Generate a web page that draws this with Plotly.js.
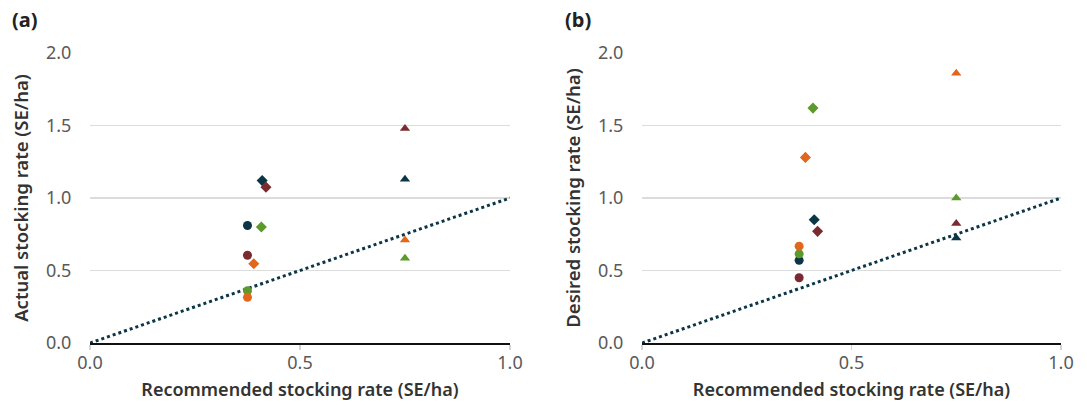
<!DOCTYPE html>
<html>
<head>
<meta charset="utf-8">
<script src="https://cdn.plot.ly/plotly-3.0.1.min.js"></script>
<style>html,body{margin:0;padding:0;background:#fff;}#chart{width:1087px;height:407px;}</style>
</head>
<body>
<div id="chart"></div>
<script>
// Groups (colour order): navy, maroon, green, orange
var groupColors = ['#0c3646', '#7b2b2f', '#5c9a2c', '#e2661b'];

// Panel (a): actual stocking rate vs recommended
var aCircleX = [0.375, 0.375, 0.375, 0.375];
var aCircleY = [0.81, 0.605, 0.36, 0.315];
var aDiamondX = [0.41, 0.419, 0.408, 0.39];
var aDiamondY = [1.12, 1.075, 0.80, 0.547];
var aTriangleX = [0.75, 0.75, 0.75, 0.75];
var aTriangleY = [1.13, 1.48, 0.585, 0.71];

// Panel (b): desired stocking rate vs recommended
var bCircleX = [0.375, 0.375, 0.375, 0.375];
var bCircleY = [0.57, 0.45, 0.615, 0.668];
var bDiamondX = [0.411, 0.419, 0.408, 0.39];
var bDiamondY = [0.85, 0.77, 1.62, 1.28];
var bTriangleX = [0.75, 0.75, 0.75, 0.75];
var bTriangleY = [0.725, 0.825, 1.0, 1.86];

// 1:1 reference line
var refX = [0, 1];
var refY = [0, 1];

var xTicks = [0, 0.5, 1.0];
var xTickText = ['0.0', '0.5', '1.0'];
var yTicks = [0, 0.5, 1.0, 1.5, 2.0];
var yTickText = ['0.0', '0.5', '1.0', '1.5', '2.0'];

var FONT = 'Noto Sans, Open Sans, sans-serif';

function pts(x, y, sym, size, xa, ya) {
  return {type: 'scatter', mode: 'markers', x: x, y: y, xaxis: xa, yaxis: ya,
    marker: {symbol: sym, size: size, color: groupColors, line: {width: 0}},
    showlegend: false, hoverinfo: 'x+y', cliponaxis: false};
}
function ref(xa, ya) {
  return {type: 'scatter', mode: 'lines', x: refX, y: refY, xaxis: xa, yaxis: ya,
    line: {color: '#0c3646', width: 3, dash: 'dot'}, showlegend: false, hoverinfo: 'skip'};
}

var data = [
  ref('x', 'y'),
  pts(aCircleX, aCircleY, 'circle', 9, 'x', 'y'),
  pts(aDiamondX, aDiamondY, 'diamond', 8.5, 'x', 'y'),
  pts(aTriangleX, aTriangleY, 'triangle-up', 9, 'x', 'y'),
  ref('x2', 'y2'),
  pts(bCircleX, bCircleY, 'circle', 9, 'x2', 'y2'),
  pts(bDiamondX, bDiamondY, 'diamond', 8.5, 'x2', 'y2'),
  pts(bTriangleX, bTriangleY, 'triangle-up', 9, 'x2', 'y2')
];

function xax(domain, anchor) {
  return {domain: domain, anchor: anchor, range: [0, 1], tickvals: xTicks, ticktext: xTickText,
    showgrid: false, zeroline: false, showline: true, linecolor: '#111', linewidth: 2,
    ticks: 'outside', ticklen: 5, tickwidth: 1.5, tickcolor: '#d4d4d4',
    ticklabelstandoff: -3,
    tickfont: {family: FONT, size: 18, color: '#595959'},
    title: {text: 'Recommended stocking rate (SE/ha)', standoff: 11,
      font: {family: FONT, size: 18, color: '#333', weight: 600}}};
}
function yax(anchor, title) {
  return {domain: [0, 1], anchor: anchor, range: [0, 2], tickvals: yTicks, ticktext: yTickText,
    showgrid: true, gridcolor: '#dcdcdc', gridwidth: 1.5, zeroline: false, showline: false,
    ticks: 'outside', ticklen: 14, tickcolor: 'rgba(0,0,0,0)',
    tickfont: {family: FONT, size: 18, color: '#595959'},
    title: {text: title, standoff: 12, font: {family: FONT, size: 18.5, color: '#333', weight: 600}}};
}

var layout = {
  width: 1087, height: 407,
  margin: {l: 90, r: 26, t: 53, b: 64},
  paper_bgcolor: '#fff', plot_bgcolor: '#fff',
  font: {family: FONT},
  xaxis: xax([0, 0.4325], 'y'),
  yaxis: yax('x', 'Actual stocking rate (SE/ha)'),
  xaxis2: xax([0.5685, 1], 'y2'),
  yaxis2: yax('x2', 'Desired stocking rate (SE/ha)'),
  annotations: [
    {text: '(a)', xref: 'paper', yref: 'paper', x: -0.0824, y: 1.114, xanchor: 'left', yanchor: 'middle',
      showarrow: false, font: {family: FONT, size: 20, color: '#222', weight: 700}},
    {text: '(b)', xref: 'paper', yref: 'paper', x: 0.487, y: 1.114, xanchor: 'left', yanchor: 'middle',
      showarrow: false, font: {family: FONT, size: 20, color: '#222', weight: 700}}
  ]
};

Plotly.newPlot('chart', data, layout, {displayModeBar: false, staticPlot: true});
</script>
</body>
</html>
